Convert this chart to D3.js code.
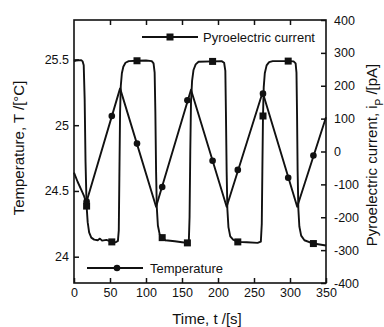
<!DOCTYPE html>
<html>
<head>
<meta charset="utf-8">
<script src="https://cdn.jsdelivr.net/npm/d3@7"></script>
<style>
  html, body { margin: 0; padding: 0; background: #fff; }
  svg { display: block; }
  text { font-family: "Liberation Sans", Arial, Helvetica, sans-serif; fill: #111; }
</style>
</head>
<body>
<div id="chart"></div>
<script>
// pyroelectric current, [time s, current pA]  (right axis)
const currentData = [
  [0, 274], [3, 277], [10, 278], [12, 274], [13.5, 262], [14.8, 160], [16, -30], [17.5, -166],
  [19, -215], [21, -246], [24, -262], [28, -268], [33, -270], [36, -265], [39, -271], [45, -269],
  [52.5, -275], [58, -276], [61, -272], [62.2, -240], [63, -80], [64, 120], [65, 200], [66.5, 238],
  [68.5, 258], [71.5, 270], [76, 275], [87.5, 276], [100, 277], [108, 275], [110.5, 268], [112, 240],
  [113, 120], [114, -60], [115, -170], [116.5, -225], [119, -252], [122.5, -262], [127, -270], [140, -273],
  [150, -276], [157.5, -278], [159.5, -272], [160.5, -200], [161.5, 0], [162.5, 150], [164, 215], [166, 248],
  [169, 265], [173, 273], [192.5, 274], [205, 275], [208.5, 270], [210.2, 245], [211, 120], [212, -60],
  [213, -175], [214.5, -230], [217, -258], [221, -268], [227.5, -275], [240, -276], [255, -278], [259.5, -274],
  [260.8, -220], [261.6, -60], [262.5, 108], [263.5, 195], [265, 238], [267.5, 262], [271, 272], [276, 275],
  [297.5, 275], [305, 274], [307.8, 268], [309, 240], [309.8, 110], [310.6, -60], [311.6, -175], [313, -228],
  [315.5, -256], [320, -270], [332.5, -280], [350, -286]
];

// temperature, [time s, °C]  (left axis)
const tempData = [
  [0, 24.64], [5, 24.57], [10, 24.51], [14, 24.46], [17, 24.41], [64, 25.28], [114, 24.38],
  [162.5, 25.27], [212, 24.38], [262, 25.25], [310, 24.38], [350, 25.06]
];

// marker samples
const markTimes = [17.5, 52.5, 87.5, 122.5, 157.5, 192.5, 227.5, 262.5, 297.5, 332.5];
const currentMarks = [-166, -275, 276, -262, -278, 274, -275, 108, 275, -280];
const tempMarks = [24.42, 25.07, 24.86, 24.53, 25.19, 24.73, 24.66, 25.24, 24.6, 24.77];

const xTicks = [0, 50, 100, 150, 200, 250, 300, 350];
const tTicks = [24, 24.5, 25, 25.5];
const iTicks = [-400, -300, -200, -100, 0, 100, 200, 300, 400];

const W = 384, H = 327;
const m = { left: 74, right: 58, top: 20, bottom: 44 };

const svg = d3.select("#chart").append("svg")
  .attr("width", W).attr("height", H);

const x = d3.scaleLinear().domain([0, 350]).range([m.left, W - m.right]);
const yT = d3.scaleLinear().domain([23.8, 25.8]).range([H - m.bottom, m.top]);
const yI = d3.scaleLinear().domain([-400, 400]).range([H - m.bottom, m.top]);

const fs = "12.5px";

// axes, ticks pointing inward
const gx = svg.append("g").attr("transform", `translate(0,${H - m.bottom})`)
  .call(d3.axisBottom(x).tickValues(xTicks).tickSize(-5).tickPadding(6).tickFormat(d3.format("d")));
const gxTop = svg.append("g").attr("transform", `translate(0,${m.top})`)
  .call(d3.axisTop(x).tickValues(xTicks.slice(1, -1)).tickSize(-5).tickFormat(""));
const gl = svg.append("g").attr("transform", `translate(${m.left},0)`)
  .call(d3.axisLeft(yT).tickValues(tTicks).tickSize(-5).tickPadding(5).tickFormat(d => d));
const gr = svg.append("g").attr("transform", `translate(${W - m.right},0)`)
  .call(d3.axisRight(yI).tickValues(iTicks).tickSize(-5).tickPadding(8).tickFormat(d => d));

[gx, gxTop, gl, gr].forEach(g => {
  g.select(".domain").remove();
  g.selectAll("line").attr("stroke", "#111").attr("stroke-width", 1.5);
  g.selectAll("text").style("font-size", fs).attr("fill", "#111");
});
gx.selectAll("text").attr("dy", "0.6em");

// frame
svg.append("rect")
  .attr("x", m.left).attr("y", m.top)
  .attr("width", W - m.left - m.right).attr("height", H - m.top - m.bottom)
  .attr("fill", "none").attr("stroke", "#111").attr("stroke-width", 1.6);

// lines
const lineI = d3.line().x(d => x(d[0])).y(d => yI(d[1]));
const lineT = d3.line().x(d => x(d[0])).y(d => yT(d[1]));

svg.append("path").datum(currentData).attr("d", lineI)
  .attr("fill", "none").attr("stroke", "#111").attr("stroke-width", 1.9).attr("stroke-linejoin", "round");
svg.append("path").datum(tempData).attr("d", lineT)
  .attr("fill", "none").attr("stroke", "#111").attr("stroke-width", 1.9).attr("stroke-linejoin", "round");

const sq = 7;
svg.append("g").selectAll("rect").data(markTimes.map((t, i) => [t, currentMarks[i]])).join("rect")
  .attr("x", d => x(d[0]) - sq / 2).attr("y", d => yI(d[1]) - sq / 2)
  .attr("width", sq).attr("height", sq).attr("fill", "#111");
svg.append("g").selectAll("circle").data(markTimes.map((t, i) => [t, tempMarks[i]])).join("circle")
  .attr("cx", d => x(d[0])).attr("cy", d => yT(d[1])).attr("r", 3.3).attr("fill", "#111");

// legends
const lg1 = svg.append("g");
lg1.append("line").attr("x1", 142).attr("x2", 198).attr("y1", 37).attr("y2", 37)
  .attr("stroke", "#111").attr("stroke-width", 1.9);
lg1.append("rect").attr("x", 170 - sq / 2).attr("y", 37 - sq / 2).attr("width", sq).attr("height", sq).attr("fill", "#111");
lg1.append("text").attr("x", 203).attr("y", 37).attr("dy", "0.35em").style("font-size", "13px")
  .text("Pyroelectric current");

const lg2 = svg.append("g");
lg2.append("line").attr("x1", 87).attr("x2", 143).attr("y1", 268).attr("y2", 268)
  .attr("stroke", "#111").attr("stroke-width", 1.9);
lg2.append("circle").attr("cx", 117).attr("cy", 268).attr("r", 3.3).attr("fill", "#111");
lg2.append("text").attr("x", 150).attr("y", 268).attr("dy", "0.35em").style("font-size", "13px")
  .text("Temperature");

// axis titles
svg.append("text").attr("transform", `translate(24,148) rotate(-90)`)
  .attr("text-anchor", "middle").style("font-size", "15px")
  .text("Temperature, T /[°C]");

const rt = svg.append("text").attr("transform", `translate(377,155) rotate(-90)`)
  .attr("text-anchor", "middle").style("font-size", "15px");
rt.append("tspan").text("Pyroelectric current, i");
rt.append("tspan").attr("baseline-shift", "sub").style("font-size", "10px").text("P");
rt.append("tspan").text(" /[pA]");

svg.append("text").attr("x", 207).attr("y", 324)
  .attr("text-anchor", "middle").style("font-size", "15px")
  .text("Time, t /[s]");
</script>
</body>
</html>
